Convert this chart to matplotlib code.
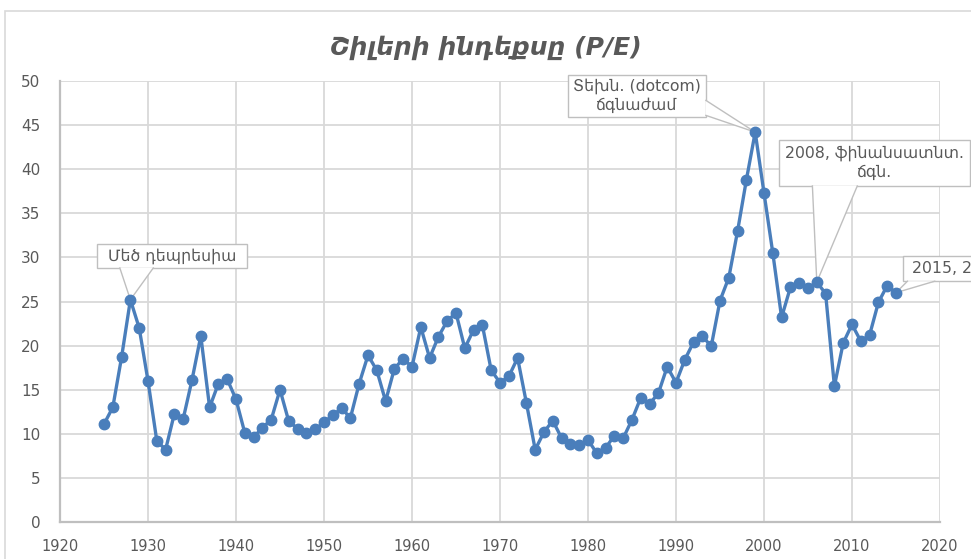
import matplotlib.pyplot as plt
from matplotlib.patches import Rectangle, Polygon

# --- Data: Shiller P/E (CAPE), yearly ---
years = list(range(1925, 2016))
cape = [
    11.1, 13.0, 18.7, 25.2, 22.0, 16.0, 9.2, 8.2, 12.3, 11.7,   # 1925-1934
    16.1, 21.1, 13.0, 15.7, 16.2, 13.9, 10.1, 9.6, 10.7, 11.6,  # 1935-1944
    15.0, 11.4, 10.6, 10.1, 10.5, 11.3, 12.1, 12.9, 11.8, 15.7, # 1945-1954
    18.9, 17.2, 13.7, 17.4, 18.5, 17.6, 22.1, 18.6, 21.0, 22.8, # 1955-1964
    23.7, 19.7, 21.8, 22.3, 17.2, 15.8, 16.5, 18.6, 13.5, 8.2,  # 1965-1974
    10.2, 11.5, 9.5, 8.9, 8.7, 9.3, 7.8, 8.4, 9.8, 9.5,         # 1975-1984
    11.6, 14.1, 13.4, 14.6, 17.6, 15.8, 18.4, 20.4, 21.1, 19.9, # 1985-1994
    25.1, 27.7, 33.0, 38.8, 44.2, 37.3, 30.5, 23.2, 26.6, 27.1, # 1995-2004
    26.5, 27.2, 25.9, 15.4, 20.3, 22.4, 20.5, 21.2, 24.9, 26.8, # 2005-2014
    26.0,                                                       # 2015
]

title = "Շիլերի ինդեքսը (P/E)"
# callout: label, year pointed at, box (x0, x1, y0, y1), pointer base (two points on the box edge)
callouts = [
    ("Մեծ դեպրեսիա", 1928, (1924.2, 1941.3, 28.8, 31.5), [(1926.8, 28.8), (1930.6, 28.8)]),
    ("Տեխն. (dotcom)\nճգնաժամ", 1999, (1977.7, 1993.4, 45.9, 50.7), [(1993.4, 47.8), (1993.4, 46.1)]),
    ("2008, ֆինանսատնտ.\nճգն.", 2006, (2001.7, 2023.4, 38.1, 43.3), [(2005.5, 38.1), (2010.6, 38.1)]),
    ("2015, 26.0", 2015, (2015.8, 2027.5, 27.3, 30.2), [(2016.3, 27.3), (2019.4, 27.3)]),
]

text_col = "#595959"
line_col = "#4a7ebb"
grid_col = "#d9d9d9"
box_col = "#bfbfbf"

fig = plt.figure(figsize=(9.71, 5.59), dpi=100)
fig.patches.append(Rectangle((5 / 971, -0.1), 1.2, 0.1 + (559 - 11) / 559,
                             transform=fig.transFigure, fc="white",
                             ec="#d9d9d9", lw=1.2, zorder=-1))

ax = fig.add_axes([60 / 971, 37 / 559, 880 / 971, 441 / 559])
ax.set_facecolor("none")

ax.plot(years, cape, color=line_col, lw=2.4, marker="o", ms=7.5,
        mfc=line_col, mec=line_col, zorder=8, clip_on=False)

ax.set_xlim(1920, 2020)
ax.set_ylim(0, 50)
ax.set_xticks(range(1920, 2021, 10))
ax.set_yticks(range(0, 51, 5))
ax.grid(True, color=grid_col, lw=1.3)
ax.set_axisbelow(True)

for s in ["top", "right"]:
    ax.spines[s].set_visible(False)
for s in ["left", "bottom"]:
    ax.spines[s].set_color("#bfbfbf")
    ax.spines[s].set_linewidth(1.6)

ax.tick_params(length=0, colors=text_col, labelsize=11)
ax.tick_params(axis="x", pad=12)
ax.tick_params(axis="y", pad=14)
for lab in ax.get_xticklabels():
    lab.set_fontsize(10.5)

fig.text(0.5, 0.915, title, ha="center", va="center", fontsize=18,
         style="italic", weight="bold", color=text_col)

# --- callouts: box + wedge pointer ---
for label, yr, (x0, x1, y0, y1), base in callouts:
    tip = (yr, cape[years.index(yr)])
    ax.add_patch(Rectangle((x0, y0), x1 - x0, y1 - y0, fc="white", ec=box_col,
                           lw=1, zorder=5, clip_on=False))
    ax.add_patch(Polygon([base[0], tip, base[1]], closed=True, fc="white",
                         ec="none", zorder=6, clip_on=False))
    ax.plot([base[0][0], tip[0], base[1][0]], [base[0][1], tip[1], base[1][1]],
            color=box_col, lw=1, zorder=6, clip_on=False)
    ax.text((x0 + x1) / 2, (y0 + y1) / 2, label, ha="center", va="center",
            fontsize=11.3, color=text_col, linespacing=1.3, zorder=7, clip_on=False)

fig.savefig("out.png", dpi=100)
